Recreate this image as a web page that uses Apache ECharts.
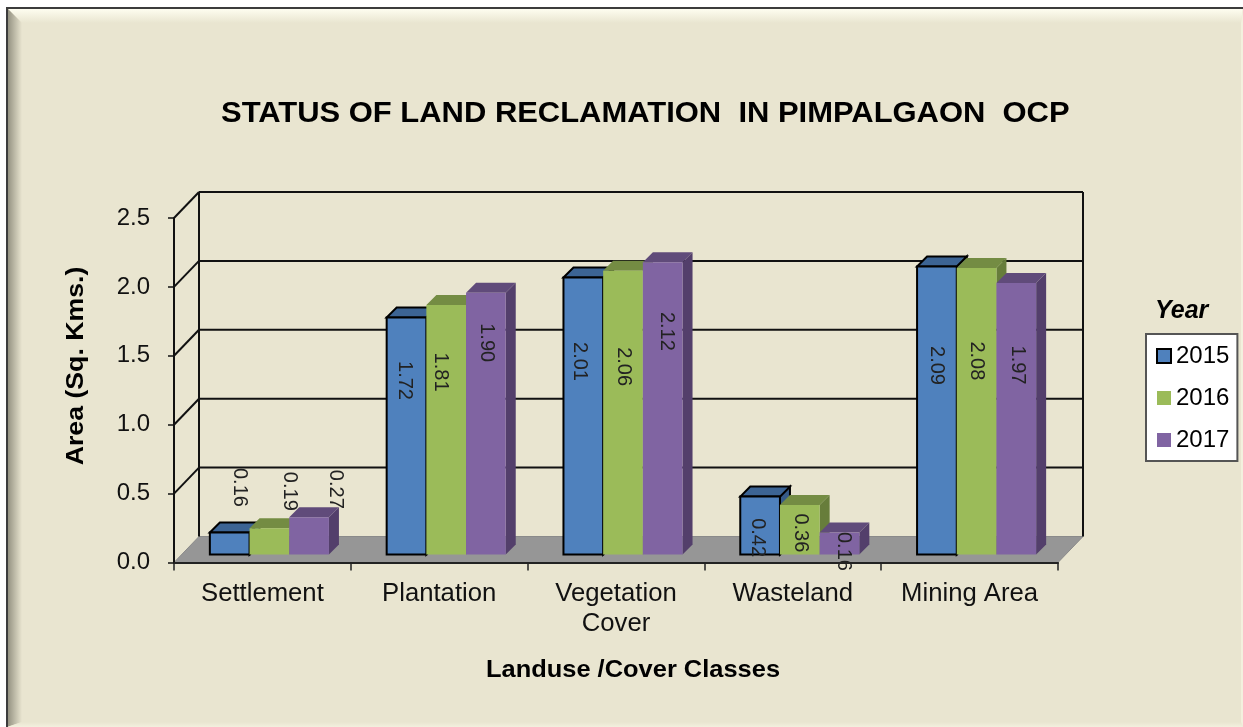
<!DOCTYPE html>
<html>
<head>
<meta charset="utf-8">
<title>Status of land reclamation</title>
<script src="https://cdn.jsdelivr.net/npm/echarts@6/dist/echarts.min.js"></script>
<style>
  html, body { margin: 0; padding: 0; background: #fff; }
  #chart { width: 1243px; height: 727px; }
</style>
</head>
<body>
<div id="chart"></div>
<script>
const categories = ['Settlement', 'Plantation', 'Vegetation\nCover', 'Wasteland', 'Mining Area']
const years = ['2015', '2016', '2017']
const values2015 = [0.16, 1.72, 2.01, 0.42, 2.09]
const values2016 = [0.19, 1.81, 2.06, 0.36, 2.08]
const values2017 = [0.27, 1.90, 2.12, 0.16, 1.97]
const yTicks = [0, 0.5, 1, 1.5, 2, 2.5]

// label nudges from the top centre of each bar, hand placed in the original
const labelDx = [[10, -2, -4, -3, 0], [20, -6, 1, 1, 0], [26, 1, 4, 4, 1]]
const labelDy = [[-45, 63, 84, 41, 99], [-37, 67, 96, 28, 93], [-28, 50, 69, 19, 82]]

const palette = [
  { front: '#4f81bd', top: '#3c6494', side: '#365a87', stroke: '#000' },
  { front: '#9bbb59', top: '#748c43', side: '#677d3b', stroke: null },
  { front: '#8064a2', top: '#604b7a', side: '#533f6b', stroke: null }
]

const WALL_DX = 25
const WALL_DY = -26
const BAR_INSET = 8
const BAR_DEPTH = 10
const BAR_SHARE = 0.2245
const CLUSTER_SHIFT = 7

const renderFrame = (params, api) => {
  const cs = params.coordSys
  const left = cs.x
  const right = cs.x + cs.width
  const y0 = api.coord([0, 0])[1]
  const children = [{
    type: 'polygon',
    shape: { points: [[left, y0], [right, y0], [right + WALL_DX, y0 + WALL_DY], [left + WALL_DX, y0 + WALL_DY]] },
    style: { fill: '#969696', stroke: '#8a8a8a', lineWidth: 1 }
  }]
  const line = (x1, y1, x2, y2, stroke = '#111') => ({
    type: 'line',
    shape: { x1, y1, x2, y2 },
    style: { stroke, lineWidth: 2 }
  })
  yTicks.forEach(t => {
    const y = api.coord([0, t])[1]
    if (t > 0) {
      children.push(line(left + WALL_DX, y + WALL_DY, right + WALL_DX, y + WALL_DY))
      children.push(line(left, y, left + WALL_DX, y + WALL_DY))
    }
  })
  const top = api.coord([0, yTicks[yTicks.length - 1]])[1] + WALL_DY
  const back = y0 + WALL_DY
  children.push(line(left + WALL_DX, top, left + WALL_DX, back))
  children.push(line(right + WALL_DX, top, right + WALL_DX, back))
  return { type: 'group', children }
}

const makeRenderBar = (seriesIndex) => (params, api) => {
  const c = palette[seriesIndex]
  const dataIndex = api.value(0)
  const value = api.value(1)
  const centre = api.coord([dataIndex, 0])
  const topPt = api.coord([dataIndex, value])
  const width = api.size([1, 0])[0] * BAR_SHARE
  const x1 = centre[0] + CLUSTER_SHIFT + (seriesIndex - 1.5) * width
  const x2 = x1 + width
  const base = centre[1] - BAR_INSET
  const top = topPt[1] - BAR_INSET
  const d = BAR_DEPTH
  const edge = c.stroke ? { stroke: c.stroke, lineWidth: 2, lineJoin: 'miter' } : {}
  return {
    type: 'group',
    children: [
      {
        type: 'polygon',
        shape: { points: [[x2, base], [x2 + d, base - d], [x2 + d, top - d], [x2, top]] },
        style: { fill: c.side, ...edge }
      },
      {
        type: 'polygon',
        shape: { points: [[x1, top], [x1 + d, top - d], [x2 + d, top - d], [x2, top]] },
        style: { fill: c.top, ...edge }
      },
      {
        type: 'rect',
        shape: { x: x1, y: top, width, height: base - top },
        style: { fill: c.front, ...edge }
      },
      {
        type: 'text',
        x: (x1 + x2) / 2 + labelDx[seriesIndex][dataIndex],
        y: top + labelDy[seriesIndex][dataIndex],
        rotation: -Math.PI / 2,
        z2: 20,
        style: {
          text: value.toFixed(2),
          fill: '#222',
          font: '20px "Liberation Sans"',
          align: 'center',
          verticalAlign: 'middle'
        }
      }
    ]
  }
}

const toPoints = (values) => values.map((v, i) => [i, v])
const seriesValues = [values2015, values2016, values2017]

const barSeries = years.map((year, i) => ({
  name: year,
  type: 'custom',
  z: 3,
  renderItem: makeRenderBar(i),
  encode: { x: 0, y: 1 },
  data: toPoints(seriesValues[i]),
  itemStyle: { color: palette[i].front }
}))

const W = 1243
const H = 727
const px = 7
const py = 8
const bevel = 15
const grad = (x, y, x2, y2, from, to) => new echarts.graphic.LinearGradient(x, y, x2, y2, [
  { offset: 0, color: from },
  { offset: 1, color: to }
])
const panel = '#e9e5d0'

const option = {
  animation: false,
  backgroundColor: '#fff',
  textStyle: { fontFamily: '"Liberation Sans", Arial, sans-serif' },
  grid: { left: 174, top: 218, width: 884, height: 344.5 },
  xAxis: {
    type: 'category',
    data: categories,
    z: 4,
    axisLine: { lineStyle: { color: '#222', width: 2 } },
    axisTick: { show: true, length: 8, lineStyle: { color: '#222', width: 1.5 } },
    axisLabel: { color: '#111', fontSize: 25.7, lineHeight: 30, margin: 16, interval: 0, fontFamily: '"Liberation Sans"' }
  },
  yAxis: {
    type: 'value',
    min: 0,
    max: 2.5,
    interval: 0.5,
    z: 4,
    splitLine: { show: false },
    axisLine: { show: true, lineStyle: { color: '#111', width: 2 } },
    axisTick: { show: true, length: 6, lineStyle: { color: '#111', width: 1.5 } },
    axisLabel: { color: '#111', fontSize: 24, margin: 24, formatter: v => v.toFixed(1), fontFamily: '"Liberation Sans"' }
  },
  legend: {
    left: 1146,
    top: 334,
    orient: 'vertical',
    icon: 'rect',
    itemWidth: 14,
    itemHeight: 14,
    itemGap: 18,
    padding: [10, 8, 9, 10],
    backgroundColor: '#fff',
    borderColor: '#555',
    borderWidth: 2,
    borderRadius: 0,
    selectedMode: false,
    textStyle: { color: '#000', fontSize: 24, fontFamily: '"Liberation Sans"' },
    data: [
      { name: '2015', itemStyle: { color: palette[0].front, borderColor: '#000', borderWidth: 2 } },
      { name: '2016', itemStyle: { color: palette[1].front, borderWidth: 0 } },
      { name: '2017', itemStyle: { color: palette[2].front, borderWidth: 0 } }
    ]
  },
  graphic: [
    {
      type: 'rect', z: -10, silent: true,
      shape: { x: px, y: py, width: W - px, height: H - py },
      style: { fill: panel }
    },
    {
      type: 'polygon', z: -9, silent: true,
      shape: { points: [[px, py], [W, py], [W - 2, py + bevel], [px + bevel, py + bevel]] },
      style: { fill: grad(0, 0, 0, 1, '#fffff2', panel) }
    },
    {
      type: 'polygon', z: -9, silent: true,
      shape: { points: [[px, py], [px + bevel, py + bevel], [px + bevel, H - 5], [px, H]] },
      style: { fill: grad(0, 0, 1, 0, '#8f8d7d', panel) }
    },
    {
      type: 'polygon', z: -9, silent: true,
      shape: { points: [[px, H], [px + bevel, H - 5], [W - 2, H - 5], [W, H]] },
      style: { fill: grad(0, 0, 0, 1, panel, '#f3f0de') }
    },
    {
      type: 'polygon', z: -9, silent: true,
      shape: { points: [[W - 2, py + bevel], [W, py], [W, H], [W - 2, H - 5]] },
      style: { fill: '#f3f0de' }
    },
    {
      type: 'rect', z: -8, silent: true,
      shape: { x: px - 1, y: py - 1, width: W, height: 2 },
      style: { fill: '#3c3c3c' }
    },
    {
      type: 'rect', z: -8, silent: true,
      shape: { x: px - 1, y: py - 1, width: 2, height: H },
      style: { fill: '#3c3c3c' }
    },
    {
      type: 'text', z: 10, x: 221, y: 114, scaleX: 1.067,
      style: {
        text: 'STATUS OF LAND RECLAMATION  IN PIMPALGAON  OCP',
        fill: '#000',
        font: 'bold 29px "Liberation Sans"',
        align: 'left',
        verticalAlign: 'middle'
      }
    },
    {
      type: 'text', z: 10, x: 77, y: 366, rotation: Math.PI / 2, scaleX: 1.16,
      style: {
        text: 'Area (Sq. Kms.)',
        fill: '#000',
        font: 'bold 23px "Liberation Sans"',
        align: 'center',
        verticalAlign: 'middle'
      }
    },
    {
      type: 'text', z: 10, x: 633, y: 670, scaleX: 1.06,
      style: {
        text: 'Landuse /Cover Classes',
        fill: '#000',
        font: 'bold 24px "Liberation Sans"',
        align: 'center',
        verticalAlign: 'middle'
      }
    },
    {
      type: 'text', z: 10, x: 1155, y: 311,
      style: {
        text: 'Year',
        fill: '#000',
        font: 'italic bold 25px "Liberation Sans"',
        align: 'left',
        verticalAlign: 'middle'
      }
    }
  ],
  series: [
    {
      type: 'custom',
      name: 'frame',
      z: 1,
      silent: true,
      renderItem: renderFrame,
      encode: { x: 0, y: 1 },
      data: [[0, 0]]
    },
    ...barSeries
  ]
}

const chart = echarts.init(document.getElementById('chart'))
chart.setOption(option)

window.addEventListener('resize', () => {
  chart.resize()
})
</script>
</body>
</html>
